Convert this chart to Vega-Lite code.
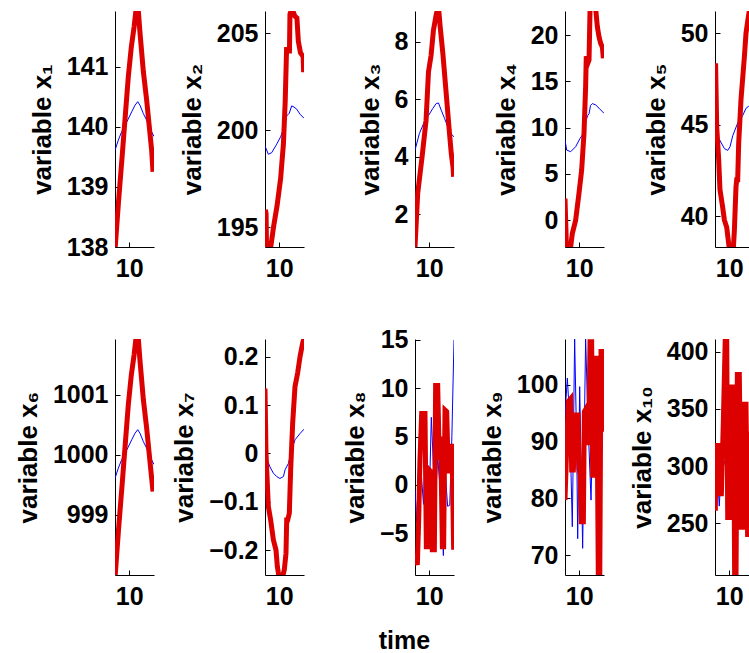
{
"$schema": "https://vega.github.io/schema/vega-lite/v6.json",
"autosize": {"type": "none"},
"padding": {"left": 115, "top": 11, "right": 634, "bottom": 642},
"background": "white",
"config": {
 "view": {"stroke": null},
 "axis": {"labelFont": "Liberation Sans", "labelFontWeight": "bold", "labelFontSize": 25, "labelColor": "#000", "titleFont": "Liberation Sans", "titleFontWeight": "bold", "titleFontSize": 26, "titleColor": "#000", "domainColor": "#000", "tickColor": "#000", "tickSize": -5, "grid": false, "labelPadding": 12, "titlePadding": 11, "domainWidth": 1, "tickWidth": 1},
 "axisX": {"labelPadding": 14}
},
"datasets": {"d": [
{"p":1,"s":"b","t":8,"v":139.61},{"p":1,"s":"b","t":8.47,"v":139.78},{"p":1,"s":"b","t":8.94,"v":139.92},{"p":1,"s":"b","t":9.65,"v":140.08},{"p":1,"s":"b","t":10.35,"v":140.25},{"p":1,"s":"b","t":10.82,"v":140.36},{"p":1,"s":"b","t":11.2,"v":140.42},{"p":1,"s":"b","t":11.53,"v":140.36},{"p":1,"s":"b","t":12,"v":140.22},{"p":1,"s":"b","t":12.47,"v":140.11},{"p":1,"s":"b","t":12.94,"v":139.97},{"p":1,"s":"b","t":13.5,"v":139.84},
{"p":1,"s":"r","t":8,"v":137.95},{"p":1,"s":"r","t":8.5,"v":138.76},{"p":1,"s":"r","t":9,"v":139.5},{"p":1,"s":"r","t":9.5,"v":140.26},{"p":1,"s":"r","t":9.88,"v":140.84},{"p":1,"s":"r","t":10.3,"v":141.33},{"p":1,"s":"r","t":10.7,"v":141.67},{"p":1,"s":"r","t":11.15,"v":142.15},{"p":1,"s":"r","t":11.53,"v":141.56},{"p":1,"s":"r","t":12,"v":140.92},{"p":1,"s":"r","t":12.47,"v":140.44},{"p":1,"s":"r","t":12.84,"v":140.0},{"p":1,"s":"r","t":13.17,"v":139.61},{"p":1,"s":"r","t":13.36,"v":139.25},
{"p":2,"s":"b","t":8,"v":199.19},{"p":2,"s":"b","t":8.47,"v":198.76},{"p":2,"s":"b","t":8.94,"v":198.84},{"p":2,"s":"b","t":9.65,"v":199.28},{"p":2,"s":"b","t":10.2,"v":199.66},{"p":2,"s":"b","t":10.59,"v":200.05},{"p":2,"s":"b","t":11.06,"v":200.74},{"p":2,"s":"b","t":11.43,"v":200.88},{"p":2,"s":"b","t":11.76,"v":201.26},{"p":2,"s":"b","t":12.09,"v":201.2},{"p":2,"s":"b","t":12.47,"v":201.09},{"p":2,"s":"b","t":12.94,"v":200.83},{"p":2,"s":"b","t":13.5,"v":200.62},
{"p":2,"s":"r","t":8.05,"v":195.9},{"p":2,"s":"r","t":8.15,"v":195.7},{"p":2,"s":"r","t":8.22,"v":193.8},{"p":2,"s":"r","t":8.75,"v":193.8},{"p":2,"s":"r","t":9.2,"v":195.0},{"p":2,"s":"r","t":9.7,"v":196.1},{"p":2,"s":"r","t":10.2,"v":197.5},{"p":2,"s":"r","t":10.6,"v":199.3},{"p":2,"s":"r","t":10.85,"v":201.5},{"p":2,"s":"r","t":11.05,"v":204.3},{"p":2,"s":"r","t":11.12,"v":204.1},{"p":2,"s":"r","t":11.45,"v":204.1},{"p":2,"s":"r","t":11.52,"v":206.0},{"p":2,"s":"r","t":11.8,"v":206.3},{"p":2,"s":"r","t":12.2,"v":205.9},{"p":2,"s":"r","t":12.5,"v":205.8},{"p":2,"s":"r","t":12.7,"v":204.6},{"p":2,"s":"r","t":13.0,"v":204.0},{"p":2,"s":"r","t":13.38,"v":203.8},{"p":2,"s":"r","t":13.45,"v":203.0},
{"p":3,"s":"b","t":8,"v":4.23},{"p":3,"s":"b","t":8.62,"v":4.81},{"p":3,"s":"b","t":9.33,"v":5.22},{"p":3,"s":"b","t":9.94,"v":5.45},{"p":3,"s":"b","t":10.51,"v":5.68},{"p":3,"s":"b","t":10.98,"v":5.85},{"p":3,"s":"b","t":11.31,"v":5.87},{"p":3,"s":"b","t":11.7,"v":5.62},{"p":3,"s":"b","t":12.17,"v":5.33},{"p":3,"s":"b","t":12.64,"v":5.03},{"p":3,"s":"b","t":13.12,"v":4.79},{"p":3,"s":"b","t":13.5,"v":4.69},
{"p":3,"s":"r","t":8,"v":0.86},{"p":3,"s":"r","t":8.38,"v":2.72},{"p":3,"s":"r","t":9,"v":4.0},{"p":3,"s":"r","t":9.56,"v":5.27},{"p":3,"s":"r","t":9.9,"v":6.95},{"p":3,"s":"r","t":10.27,"v":7.53},{"p":3,"s":"r","t":10.6,"v":8.4},{"p":3,"s":"r","t":10.98,"v":8.93},{"p":3,"s":"r","t":11.3,"v":9.25},{"p":3,"s":"r","t":11.55,"v":8.52},{"p":3,"s":"r","t":11.93,"v":7.59},{"p":3,"s":"r","t":12.4,"v":6.2},{"p":3,"s":"r","t":12.79,"v":5.03},{"p":3,"s":"r","t":13.12,"v":4.1},{"p":3,"s":"r","t":13.36,"v":3.65},{"p":3,"s":"r","t":13.45,"v":3.3},
{"p":4,"s":"b","t":8,"v":8.67},{"p":4,"s":"b","t":8.24,"v":7.58},{"p":4,"s":"b","t":8.8,"v":7.4},{"p":4,"s":"b","t":9.5,"v":7.94},{"p":4,"s":"b","t":10.12,"v":8.84},{"p":4,"s":"b","t":10.45,"v":9.2},{"p":4,"s":"b","t":10.91,"v":10.65},{"p":4,"s":"b","t":11.2,"v":11.3},{"p":4,"s":"b","t":11.39,"v":11.5},{"p":4,"s":"b","t":11.6,"v":12.4},{"p":4,"s":"b","t":11.86,"v":12.6},{"p":4,"s":"b","t":12.33,"v":12.45},{"p":4,"s":"b","t":12.8,"v":12.1},{"p":4,"s":"b","t":13.5,"v":11.55},
{"p":4,"s":"r","t":8,"v":2.35},{"p":4,"s":"r","t":8.19,"v":-2.5},{"p":4,"s":"r","t":8.3,"v":-3.2},{"p":4,"s":"r","t":8.75,"v":-3.2},{"p":4,"s":"r","t":9.03,"v":-1.44},{"p":4,"s":"r","t":9.5,"v":0},{"p":4,"s":"r","t":9.97,"v":2.9},{"p":4,"s":"r","t":10.35,"v":5.42},{"p":4,"s":"r","t":10.68,"v":9.39},{"p":4,"s":"r","t":10.91,"v":14.44},{"p":4,"s":"r","t":11.0,"v":17.7},{"p":4,"s":"r","t":11.29,"v":17.1},{"p":4,"s":"r","t":11.39,"v":17.3},{"p":4,"s":"r","t":11.53,"v":22.8},{"p":4,"s":"r","t":11.86,"v":23.2},{"p":4,"s":"r","t":12.33,"v":22.8},{"p":4,"s":"r","t":12.56,"v":20.9},{"p":4,"s":"r","t":12.8,"v":19.8},{"p":4,"s":"r","t":13.03,"v":19.1},{"p":4,"s":"r","t":13.27,"v":18.7},{"p":4,"s":"r","t":13.41,"v":17.5},
{"p":5,"s":"b","t":8,"v":44.55},{"p":5,"s":"b","t":8.62,"v":44.2},{"p":5,"s":"b","t":9.32,"v":43.7},{"p":5,"s":"b","t":9.79,"v":43.6},{"p":5,"s":"b","t":10.12,"v":43.8},{"p":5,"s":"b","t":10.5,"v":44.4},{"p":5,"s":"b","t":11.2,"v":45.1},{"p":5,"s":"b","t":11.9,"v":45.5},{"p":5,"s":"b","t":12.37,"v":45.9},{"p":5,"s":"b","t":12.7,"v":46.0},{"p":5,"s":"b","t":13.5,"v":46.2},
{"p":5,"s":"r","t":8.08,"v":48.36},{"p":5,"s":"r","t":8.24,"v":44.9},{"p":5,"s":"r","t":8.52,"v":43.1},{"p":5,"s":"r","t":8.7,"v":41.46},{"p":5,"s":"r","t":9.08,"v":40.5},{"p":5,"s":"r","t":9.32,"v":39.8},{"p":5,"s":"r","t":9.65,"v":39.4},{"p":5,"s":"r","t":9.93,"v":38.5},{"p":5,"s":"r","t":10.1,"v":38.0},{"p":5,"s":"r","t":10.55,"v":38.0},{"p":5,"s":"r","t":10.73,"v":39.2},{"p":5,"s":"r","t":10.96,"v":41.6},{"p":5,"s":"r","t":11.06,"v":42.0},{"p":5,"s":"r","t":11.2,"v":42.0},{"p":5,"s":"r","t":11.34,"v":44.0},{"p":5,"s":"r","t":11.67,"v":46.4},{"p":5,"s":"r","t":12.14,"v":48.7},{"p":5,"s":"r","t":12.37,"v":50.0},{"p":5,"s":"r","t":12.7,"v":50.9},{"p":5,"s":"r","t":13.0,"v":51.6},{"p":5,"s":"r","t":13.5,"v":51.0},
{"p":6,"s":"b","t":8,"v":999.61},{"p":6,"s":"b","t":8.47,"v":999.78},{"p":6,"s":"b","t":8.94,"v":999.92},{"p":6,"s":"b","t":9.65,"v":1000.08},{"p":6,"s":"b","t":10.35,"v":1000.25},{"p":6,"s":"b","t":10.82,"v":1000.36},{"p":6,"s":"b","t":11.2,"v":1000.42},{"p":6,"s":"b","t":11.53,"v":1000.36},{"p":6,"s":"b","t":12,"v":1000.22},{"p":6,"s":"b","t":12.47,"v":1000.11},{"p":6,"s":"b","t":12.94,"v":999.97},{"p":6,"s":"b","t":13.5,"v":999.84},
{"p":6,"s":"r","t":8,"v":997.95},{"p":6,"s":"r","t":8.5,"v":998.76},{"p":6,"s":"r","t":9,"v":999.5},{"p":6,"s":"r","t":9.5,"v":1000.26},{"p":6,"s":"r","t":9.88,"v":1000.84},{"p":6,"s":"r","t":10.3,"v":1001.33},{"p":6,"s":"r","t":10.7,"v":1001.67},{"p":6,"s":"r","t":11.15,"v":1002.15},{"p":6,"s":"r","t":11.53,"v":1001.56},{"p":6,"s":"r","t":12,"v":1000.92},{"p":6,"s":"r","t":12.47,"v":1000.44},{"p":6,"s":"r","t":12.84,"v":1000.0},{"p":6,"s":"r","t":13.17,"v":999.61},{"p":6,"s":"r","t":13.36,"v":999.39},
{"p":7,"s":"b","t":8,"v":0.0},{"p":7,"s":"b","t":8.33,"v":-0.014},{"p":7,"s":"b","t":8.7,"v":-0.028},{"p":7,"s":"b","t":9.18,"v":-0.041},{"p":7,"s":"b","t":9.65,"v":-0.048},{"p":7,"s":"b","t":10.1,"v":-0.052},{"p":7,"s":"b","t":10.6,"v":-0.048},{"p":7,"s":"b","t":10.83,"v":-0.034},{"p":7,"s":"b","t":11.3,"v":-0.021},{"p":7,"s":"b","t":11.76,"v":0.007},{"p":7,"s":"b","t":12.23,"v":0.028},{"p":7,"s":"b","t":12.94,"v":0.041},{"p":7,"s":"b","t":13.5,"v":0.05},
{"p":7,"s":"r","t":8,"v":0.134},{"p":7,"s":"r","t":8.14,"v":0.0},{"p":7,"s":"r","t":8.47,"v":-0.11},{"p":7,"s":"r","t":8.8,"v":-0.138},{"p":7,"s":"r","t":9.18,"v":-0.179},{"p":7,"s":"r","t":9.55,"v":-0.2},{"p":7,"s":"r","t":9.74,"v":-0.234},{"p":7,"s":"r","t":10.0,"v":-0.258},{"p":7,"s":"r","t":10.5,"v":-0.255},{"p":7,"s":"r","t":10.73,"v":-0.24},{"p":7,"s":"r","t":10.96,"v":-0.207},{"p":7,"s":"r","t":11.06,"v":-0.138},{"p":7,"s":"r","t":11.2,"v":-0.138},{"p":7,"s":"r","t":11.43,"v":-0.124},{"p":7,"s":"r","t":11.62,"v":-0.034},{"p":7,"s":"r","t":11.9,"v":0.062},{"p":7,"s":"r","t":12.23,"v":0.138},{"p":7,"s":"r","t":12.6,"v":0.166},{"p":7,"s":"r","t":12.94,"v":0.2},{"p":7,"s":"r","t":13.31,"v":0.228},{"p":7,"s":"r","t":13.5,"v":0.238},
{"p":8,"s":"b","t":8,"v":-0.5},{"p":8,"s":"b","t":8.25,"v":-4},{"p":8,"s":"b","t":8.5,"v":2},{"p":8,"s":"b","t":8.7,"v":6.4},{"p":8,"s":"b","t":8.9,"v":1},{"p":8,"s":"b","t":9.2,"v":-2},{"p":8,"s":"b","t":9.5,"v":3},{"p":8,"s":"b","t":9.8,"v":-3},{"p":8,"s":"b","t":10.1,"v":1},{"p":8,"s":"b","t":10.3,"v":7.0},{"p":8,"s":"b","t":10.6,"v":2},{"p":8,"s":"b","t":10.9,"v":-1.5},{"p":8,"s":"b","t":11.2,"v":3},{"p":8,"s":"b","t":11.5,"v":0},{"p":8,"s":"b","t":11.8,"v":-3},{"p":8,"s":"b","t":12.0,"v":-7.3},{"p":8,"s":"b","t":12.3,"v":1},{"p":8,"s":"b","t":12.6,"v":-2.2},{"p":8,"s":"b","t":12.9,"v":-2.1},{"p":8,"s":"b","t":13.2,"v":5},{"p":8,"s":"b","t":13.5,"v":15},
{"p":8,"s":"r","t":8.09,"v":-7.07},{"p":8,"s":"r","t":8.33,"v":-8.28},{"p":8,"s":"r","t":8.52,"v":-3.6},{"p":8,"s":"r","t":8.7,"v":2.6},{"p":8,"s":"r","t":8.94,"v":7.4},{"p":8,"s":"r","t":9.41,"v":7.4},{"p":8,"s":"r","t":9.6,"v":-6.4},{"p":8,"s":"r","t":9.88,"v":-6.4},{"p":8,"s":"r","t":10.02,"v":1.55},{"p":8,"s":"r","t":10.2,"v":1.4},{"p":8,"s":"r","t":10.44,"v":-6.7},{"p":8,"s":"r","t":10.73,"v":-6.7},{"p":8,"s":"r","t":10.91,"v":10.3},{"p":8,"s":"r","t":11.2,"v":10.3},{"p":8,"s":"r","t":11.43,"v":2.6},{"p":8,"s":"r","t":11.62,"v":5.0},{"p":8,"s":"r","t":11.86,"v":-6.4},{"p":8,"s":"r","t":12.04,"v":-6.4},{"p":8,"s":"r","t":12.23,"v":7.76},{"p":8,"s":"r","t":12.47,"v":7.6},{"p":8,"s":"r","t":12.7,"v":1.2},{"p":8,"s":"r","t":12.89,"v":4.0},{"p":8,"s":"r","t":13.22,"v":4.0},{"p":8,"s":"r","t":13.45,"v":-6.7},
{"p":9,"s":"b","t":8,"v":94.7},{"p":9,"s":"b","t":8.33,"v":101.2},{"p":9,"s":"b","t":8.66,"v":94.1},{"p":9,"s":"b","t":9.03,"v":75.0},{"p":9,"s":"b","t":9.36,"v":108.2},{"p":9,"s":"b","t":9.65,"v":89.4},{"p":9,"s":"b","t":9.79,"v":72.9},{"p":9,"s":"b","t":10.07,"v":99.7},{"p":9,"s":"b","t":10.35,"v":81.2},{"p":9,"s":"b","t":10.49,"v":71.2},{"p":9,"s":"b","t":10.91,"v":108.2},{"p":9,"s":"b","t":11.24,"v":93.5},{"p":9,"s":"b","t":11.67,"v":79.7},{"p":9,"s":"b","t":11.86,"v":90.6},{"p":9,"s":"b","t":12.09,"v":98.8},{"p":9,"s":"b","t":12.56,"v":87.1},{"p":9,"s":"b","t":13.03,"v":100},{"p":9,"s":"b","t":13.36,"v":91.8},{"p":9,"s":"b","t":13.5,"v":94.1},
{"p":9,"s":"r","t":8,"v":79.7},{"p":9,"s":"r","t":8.19,"v":87.1},{"p":9,"s":"r","t":8.47,"v":97.1},{"p":9,"s":"r","t":8.8,"v":97.6},{"p":9,"s":"r","t":8.94,"v":85.0},{"p":9,"s":"r","t":9.18,"v":85.0},{"p":9,"s":"r","t":9.5,"v":94.7},{"p":9,"s":"r","t":9.83,"v":94.7},{"p":9,"s":"r","t":9.97,"v":85.3},{"p":9,"s":"r","t":10.12,"v":84.1},{"p":9,"s":"r","t":10.3,"v":75.9},{"p":9,"s":"r","t":10.59,"v":75.9},{"p":9,"s":"r","t":10.73,"v":95.3},{"p":9,"s":"r","t":11.0,"v":95.9},{"p":9,"s":"r","t":11.15,"v":89.4},{"p":9,"s":"r","t":11.39,"v":95.3},{"p":9,"s":"r","t":11.53,"v":107.6},{"p":9,"s":"r","t":11.76,"v":107.6},{"p":9,"s":"r","t":11.9,"v":84.1},{"p":9,"s":"r","t":12.09,"v":84.1},{"p":9,"s":"r","t":12.23,"v":104.7},{"p":9,"s":"r","t":12.47,"v":104.7},{"p":9,"s":"r","t":12.7,"v":65.5},{"p":9,"s":"r","t":12.9,"v":65.5},{"p":9,"s":"r","t":13.08,"v":105.9},{"p":9,"s":"r","t":13.31,"v":105.9},{"p":9,"s":"r","t":13.45,"v":91.8},
{"p":10,"s":"b","t":8,"v":270},{"p":10,"s":"b","t":8.3,"v":300},{"p":10,"s":"b","t":8.6,"v":265},{"p":10,"s":"b","t":9.0,"v":310},{"p":10,"s":"b","t":9.5,"v":300},{"p":10,"s":"b","t":9.9,"v":365},{"p":10,"s":"b","t":10.3,"v":270},{"p":10,"s":"b","t":10.7,"v":320},{"p":10,"s":"b","t":11.1,"v":290},{"p":10,"s":"b","t":11.5,"v":340},{"p":10,"s":"b","t":11.9,"v":260},{"p":10,"s":"b","t":12.3,"v":330},{"p":10,"s":"b","t":12.7,"v":300},
{"p":10,"s":"r","t":8.05,"v":261},{"p":10,"s":"r","t":8.14,"v":318},{"p":10,"s":"r","t":8.42,"v":318},{"p":10,"s":"r","t":8.61,"v":275.8},{"p":10,"s":"r","t":8.9,"v":275.8},{"p":10,"s":"r","t":9.18,"v":340},{"p":10,"s":"r","t":9.46,"v":415},{"p":10,"s":"r","t":9.65,"v":415},{"p":10,"s":"r","t":9.79,"v":255},{"p":10,"s":"r","t":10.1,"v":255},{"p":10,"s":"r","t":10.35,"v":369},{"p":10,"s":"r","t":10.63,"v":369},{"p":10,"s":"r","t":10.77,"v":200},{"p":10,"s":"r","t":10.96,"v":200},{"p":10,"s":"r","t":11.15,"v":380},{"p":10,"s":"r","t":11.43,"v":380},{"p":10,"s":"r","t":11.67,"v":246.6},{"p":10,"s":"r","t":11.9,"v":246.6},{"p":10,"s":"r","t":12.14,"v":354},{"p":10,"s":"r","t":12.37,"v":354},{"p":10,"s":"r","t":12.6,"v":238},{"p":10,"s":"r","t":12.9,"v":330},{"p":10,"s":"r","t":13.2,"v":270},{"p":10,"s":"r","t":13.5,"v":300}
]},
"data": {"name": "d"},
"columns": 5,
"bounds": "flush",
"spacing": {"row": 92, "column": 111},
"concat": [
{"width": 39, "height": 236, "transform": [{"filter": "datum.p == 1"}],
 "encoding": {"x": {"field": "t", "type": "quantitative", "scale": {"domain": [8, 13.5], "nice": false}, "axis": {"values": [10], "title": null}},
  "y": {"field": "v", "type": "quantitative", "scale": {"domain": [138, 141.93], "nice": false, "zero": false}, "axis": {"values": [138, 139, 140, 141], "format": "~r", "title": "variable x₁"}}},
 "layer": [
  {"transform": [{"filter": "datum.s == 'b'"}], "mark": {"type": "line", "color": "#0000ff", "strokeWidth": 1, "clip": true}},
  {"transform": [{"filter": "datum.s == 'r'"}], "mark": {"type": "line", "color": "#dd0000", "strokeWidth": 5, "clip": true}}]},
{"width": 39, "height": 236, "transform": [{"filter": "datum.p == 2"}],
 "encoding": {"x": {"field": "t", "type": "quantitative", "scale": {"domain": [8, 13.5], "nice": false}, "axis": {"values": [10], "title": null}},
  "y": {"field": "v", "type": "quantitative", "scale": {"domain": [193.97, 206.16], "nice": false, "zero": false}, "axis": {"values": [195, 200, 205], "format": "~r", "title": "variable x₂"}}},
 "layer": [
  {"transform": [{"filter": "datum.s == 'b'"}], "mark": {"type": "line", "color": "#0000ff", "strokeWidth": 1, "clip": true}},
  {"transform": [{"filter": "datum.s == 'r'"}], "mark": {"type": "line", "color": "#dd0000", "strokeWidth": 5, "clip": true}}]},
{"width": 39, "height": 236, "transform": [{"filter": "datum.p == 3"}],
 "encoding": {"x": {"field": "t", "type": "quantitative", "scale": {"domain": [8, 13.5], "nice": false}, "axis": {"values": [10], "title": null}},
  "y": {"field": "v", "type": "quantitative", "scale": {"domain": [0.86, 9.07], "nice": false, "zero": false}, "axis": {"values": [2, 4, 6, 8], "format": "~r", "title": "variable x₃"}}},
 "layer": [
  {"transform": [{"filter": "datum.s == 'b'"}], "mark": {"type": "line", "color": "#0000ff", "strokeWidth": 1, "clip": true}},
  {"transform": [{"filter": "datum.s == 'r'"}], "mark": {"type": "line", "color": "#dd0000", "strokeWidth": 5, "clip": true}}]},
{"width": 39, "height": 236, "transform": [{"filter": "datum.p == 4"}],
 "encoding": {"x": {"field": "t", "type": "quantitative", "scale": {"domain": [8, 13.5], "nice": false}, "axis": {"values": [10], "title": null}},
  "y": {"field": "v", "type": "quantitative", "scale": {"domain": [-2.89, 22.6], "nice": false, "zero": false}, "axis": {"values": [0, 5, 10, 15, 20], "format": "~r", "title": "variable x₄"}}},
 "layer": [
  {"transform": [{"filter": "datum.s == 'b'"}], "mark": {"type": "line", "color": "#0000ff", "strokeWidth": 1, "clip": true}},
  {"transform": [{"filter": "datum.s == 'r'"}], "mark": {"type": "line", "color": "#dd0000", "strokeWidth": 5, "clip": true}}]},
{"width": 39, "height": 236, "transform": [{"filter": "datum.p == 5"}],
 "encoding": {"x": {"field": "t", "type": "quantitative", "scale": {"domain": [8, 13.5], "nice": false}, "axis": {"values": [10], "title": null}},
  "y": {"field": "v", "type": "quantitative", "scale": {"domain": [38.32, 51.22], "nice": false, "zero": false}, "axis": {"values": [40, 45, 50], "format": "~r", "title": "variable x₅"}}},
 "layer": [
  {"transform": [{"filter": "datum.s == 'b'"}], "mark": {"type": "line", "color": "#0000ff", "strokeWidth": 1, "clip": true}},
  {"transform": [{"filter": "datum.s == 'r'"}], "mark": {"type": "line", "color": "#dd0000", "strokeWidth": 5, "clip": true}}]},
{"width": 39, "height": 236, "transform": [{"filter": "datum.p == 6"}],
 "encoding": {"x": {"field": "t", "type": "quantitative", "scale": {"domain": [8, 13.5], "nice": false}, "axis": {"values": [10], "title": null}},
  "y": {"field": "v", "type": "quantitative", "scale": {"domain": [998, 1001.93], "nice": false, "zero": false}, "axis": {"values": [999, 1000, 1001], "format": "~r", "title": "variable x₆"}}},
 "layer": [
  {"transform": [{"filter": "datum.s == 'b'"}], "mark": {"type": "line", "color": "#0000ff", "strokeWidth": 1, "clip": true}},
  {"transform": [{"filter": "datum.s == 'r'"}], "mark": {"type": "line", "color": "#dd0000", "strokeWidth": 5, "clip": true}}]},
{"width": 39, "height": 236, "transform": [{"filter": "datum.p == 7"}],
 "encoding": {"x": {"field": "t", "type": "quantitative", "scale": {"domain": [8, 13.5], "nice": false}, "axis": {"values": [10], "title": null}},
  "y": {"field": "v", "type": "quantitative", "scale": {"domain": [-0.2517, 0.2366], "nice": false, "zero": false}, "axis": {"values": [-0.2, -0.1, 0, 0.1, 0.2], "format": "~r", "title": "variable x₇"}}},
 "layer": [
  {"transform": [{"filter": "datum.s == 'b'"}], "mark": {"type": "line", "color": "#0000ff", "strokeWidth": 1, "clip": true}},
  {"transform": [{"filter": "datum.s == 'r'"}], "mark": {"type": "line", "color": "#dd0000", "strokeWidth": 5, "clip": true}}]},
{"width": 39, "height": 236, "transform": [{"filter": "datum.p == 8"}],
 "encoding": {"x": {"field": "t", "type": "quantitative", "scale": {"domain": [8, 13.5], "nice": false}, "axis": {"values": [10], "title": "time", "titleX": -11, "titleY": 73, "titleBaseline": "alphabetic", "titleAlign": "center", "titleFontSize": 25}},
  "y": {"field": "v", "type": "quantitative", "scale": {"domain": [-9.31, 15.1], "nice": false, "zero": false}, "axis": {"values": [-5, 0, 5, 10, 15], "format": "~r", "title": "variable x₈"}}},
 "layer": [
  {"transform": [{"filter": "datum.s == 'b'"}], "mark": {"type": "line", "color": "#0000ff", "strokeWidth": 1, "clip": true}},
  {"transform": [{"filter": "datum.s == 'r'"}], "mark": {"type": "line", "color": "#dd0000", "strokeWidth": 5, "clip": true}}]},
{"width": 39, "height": 236, "transform": [{"filter": "datum.p == 9"}],
 "encoding": {"x": {"field": "t", "type": "quantitative", "scale": {"domain": [8, 13.5], "nice": false}, "axis": {"values": [10], "title": null}},
  "y": {"field": "v", "type": "quantitative", "scale": {"domain": [66.5, 108.1], "nice": false, "zero": false}, "axis": {"values": [70, 80, 90, 100], "format": "~r", "title": "variable x₉"}}},
 "layer": [
  {"transform": [{"filter": "datum.s == 'b'"}], "mark": {"type": "line", "color": "#0000ff", "strokeWidth": 1, "clip": true}},
  {"transform": [{"filter": "datum.s == 'r'"}], "mark": {"type": "line", "color": "#dd0000", "strokeWidth": 5, "clip": true}}]},
{"width": 39, "height": 236, "transform": [{"filter": "datum.p == 10"}],
 "encoding": {"x": {"field": "t", "type": "quantitative", "scale": {"domain": [8, 13.5], "nice": false}, "axis": {"values": [10], "title": null}},
  "y": {"field": "v", "type": "quantitative", "scale": {"domain": [204.8, 411], "nice": false, "zero": false}, "axis": {"values": [250, 300, 350, 400], "format": "~r", "title": "variable x₁₀"}}},
 "layer": [
  {"transform": [{"filter": "datum.s == 'b'"}], "mark": {"type": "line", "color": "#0000ff", "strokeWidth": 1, "clip": true}},
  {"transform": [{"filter": "datum.s == 'r'"}], "mark": {"type": "line", "color": "#dd0000", "strokeWidth": 5, "clip": true}}]}
]
}
